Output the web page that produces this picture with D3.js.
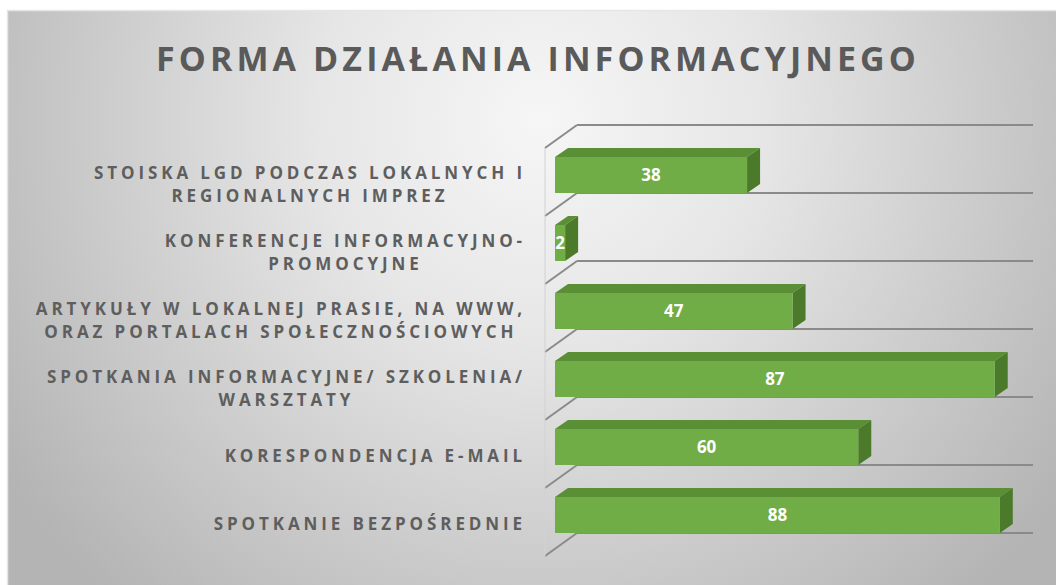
<!DOCTYPE html>
<html><head><meta charset="utf-8">
<script src="https://cdn.jsdelivr.net/npm/d3@7"></script>
<style>body{margin:0;background:#fff}svg{display:block}</style>
</head><body>
<script>
const title = "FORMA DZIAŁANIA INFORMACYJNEGO";
const categories = [
  "STOISKA LGD PODCZAS LOKALNYCH I REGIONALNYCH IMPREZ",
  "KONFERENCJE INFORMACYJNO-PROMOCYJNE",
  "ARTYKUŁY W LOKALNEJ PRASIE, NA WWW, ORAZ PORTALACH SPOŁECZNOŚCIOWYCH",
  "SPOTKANIA INFORMACYJNE/ SZKOLENIA/ WARSZTATY",
  "KORESPONDENCJA E-MAIL",
  "SPOTKANIE BEZPOŚREDNIE"
];
const labelLines = [
  ["STOISKA LGD PODCZAS LOKALNYCH I", "REGIONALNYCH IMPREZ"],
  ["KONFERENCJE INFORMACYJNO-", "PROMOCYJNE"],
  ["ARTYKUŁY W LOKALNEJ PRASIE, NA WWW,", "ORAZ PORTALACH SPOŁECZNOŚCIOWYCH"],
  ["SPOTKANIA INFORMACYJNE/ SZKOLENIA/", "WARSZTATY"],
  ["KORESPONDENCJA E-MAIL"],
  ["SPOTKANIE BEZPOŚREDNIE"]
];
const values = [38, 2, 47, 87, 60, 88];

const W = 1056, H = 585;
const svg = d3.select("body").append("svg").attr("width", W).attr("height", H);
const defs = svg.append("defs");
const rg = defs.append("radialGradient").attr("id", "bg")
  .attr("gradientUnits", "userSpaceOnUse")
  .attr("cx", 540).attr("cy", 120).attr("r", 640);
rg.append("stop").attr("offset", "0").attr("stop-color", "#f6f6f6");
rg.append("stop").attr("offset", "0.35").attr("stop-color", "#e6e6e6");
rg.append("stop").attr("offset", "1").attr("stop-color", "#b4b4b4");

svg.append("rect").attr("x", 7).attr("y", 10).attr("width", W - 7).attr("height", H - 10)
  .attr("fill", "url(#bg)");
svg.append("line").attr("x1", 7.5).attr("x2", 7.5).attr("y1", 10).attr("y2", H)
  .attr("stroke", "#e6e6e6").attr("stroke-width", 1.5);
svg.append("line").attr("x1", 7).attr("x2", W).attr("y1", 10.5).attr("y2", 10.5)
  .attr("stroke", "#e6e6e6").attr("stroke-width", 1.5);

// Title
svg.append("text").attr("x", 538).attr("y", 71).attr("text-anchor", "middle")
  .attr("font-family", "Open Sans").attr("font-weight", 700).attr("font-size", 34)
  .attr("letter-spacing", 4.1).attr("fill", "#5a5a5a").text(title);

// Scales
const y = d3.scaleBand().domain(categories).range([125, 533]).padding(0);
const x = d3.scaleLinear().domain([0, 92]).range([555, 1020]);
const bw = y.bandwidth();
const wallDX = 32, wallDY = -23, barDX = 13, barDY = -9;
const frontX = x(0) - 10;
const backX = frontX + wallDX;
const endX = x(92) + barDX;

const bounds = categories.map(c => y(c)).concat([y.range()[1]]);
const grid = svg.append("g").attr("stroke", "#8a8a8a").attr("stroke-width", 2).attr("fill", "none");
grid.selectAll("line.h").data(bounds).join("line").attr("class", "h")
  .attr("x1", backX).attr("x2", endX).attr("y1", d => d).attr("y2", d => d);
grid.selectAll("line.d").data(bounds).join("line").attr("class", "d")
  .attr("x1", frontX).attr("y1", d => d - wallDY).attr("x2", backX).attr("y2", d => d);
svg.append("line").attr("x1", frontX).attr("x2", frontX)
  .attr("y1", bounds[0] - wallDY).attr("y2", bounds[bounds.length - 1] - wallDY)
  .attr("stroke", "#d2d2d2").attr("stroke-width", 1);

// Bars
const bars = svg.append("g");
categories.forEach((c, i) => {
  const v = values[i];
  const x0 = x(0), x1 = x(v);
  const ft = y(c) + 32, fb = y(c) + bw;
  const g = bars.append("g");
  g.append("polygon").attr("fill", "#5b8f36")
    .attr("points", [[x0, ft], [x0 + barDX, ft + barDY], [x1 + barDX, ft + barDY], [x1, ft]].join(" "));
  g.append("polygon").attr("fill", "#4b7a2b")
    .attr("points", [[x1, ft], [x1 + barDX, ft + barDY], [x1 + barDX, fb + barDY], [x1, fb]].join(" "));
  g.append("rect").attr("x", x0).attr("y", ft).attr("width", x1 - x0).attr("height", fb - ft)
    .attr("fill", "#70ad47");
  g.append("text").attr("x", (x0 + x1) / 2).attr("y", (ft + fb) / 2).attr("dy", "0.36em")
    .attr("text-anchor", "middle").attr("font-family", "Open Sans").attr("font-weight", 700)
    .attr("font-size", 17).attr("fill", "#ffffff").text(v);
});

// Category labels
const lab = svg.append("g").attr("font-family", "Open Sans").attr("font-weight", 700)
  .attr("font-size", 17).attr("letter-spacing", 3.9).attr("fill", "#5e5e5e");
const rightEdge = 526;
categories.forEach((c, i) => {
  const lines = labelLines[i];
  const cy = y(c) + bw / 2 + 25;
  const lh = 23;
  const t = lab.append("text").attr("text-anchor", "middle");
  const spans = lines.map((s, k) => t.append("tspan").attr("y", cy + (k - (lines.length - 1) / 2) * lh).attr("dy", "0.36em").text(s));
  const widths = spans.map(s => s.node().getComputedTextLength());
  const mw = d3.max(widths);
  spans.forEach(s => s.attr("x", rightEdge - mw / 2));
});
</script>
</body></html>
